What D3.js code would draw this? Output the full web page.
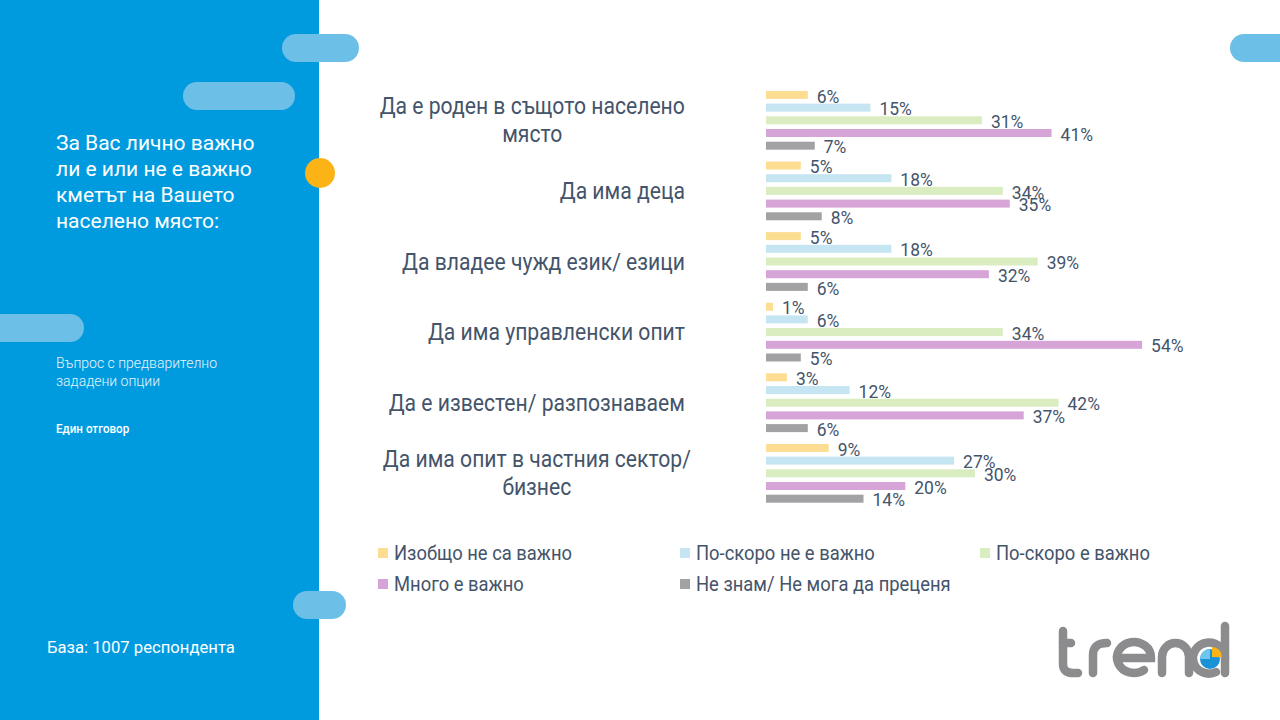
<!DOCTYPE html>
<html>
<head>
	<meta charset="utf-8">
	<title>Кметът на населеното място</title>
	<script src="https://cdn.jsdelivr.net/npm/d3@7"></script>
	<style type="text/css">
		body { margin: 0; background: #fff; }
		svg { display: block; }
		text { font-family: Roboto, "Noto Sans", sans-serif; }
	</style>
</head>
<body>

	<svg width="1280" height="720" class="slide"></svg>

	<script type="text/javascript">

		var categories = [
			['Да е роден в същото населено', 'място'],
			['Да има деца'],
			['Да владее чужд език/ езици'],
			['Да има управленски опит'],
			['Да е известен/ разпознаваем'],
			['Да има опит в частния сектор/', 'бизнес']
		]

		var series_names = ['Изобщо не са важно', 'По-скоро не е важно', 'По-скоро е важно', 'Много е важно', 'Не знам/ Не мога да преценя']
		var series_colors = ['#fcdd92', '#c5e5f3', '#d9edc1', '#d7a4d8', '#a2a2a4']

		var not_at_all = [6, 5, 5, 1, 3, 9]
		var rather_not = [15, 18, 18, 6, 12, 27]
		var rather_yes = [31, 34, 39, 34, 42, 30]
		var very = [41, 35, 32, 54, 37, 20]
		var dont_know = [7, 8, 6, 5, 6, 14]

		var series_values = [not_at_all, rather_not, rather_yes, very, dont_know]

		// chart texts use a condensed face on the slide, so squeeze Roboto a little there
		var SX = 0.92
		function place(x, y, sx) {
			if (sx === undefined) sx = SX
			return 'translate(' + x + ',' + y + ') scale(' + sx + ',1)'
		}

		var svg = d3.select('.slide')

		// left blue panel and decorations
		svg.append('rect').attr('x', 0).attr('y', 0).attr('width', 319).attr('height', 720).attr('fill', '#009bdf')

		var pills = [[282, 34, 77], [183, 82, 112], [-20, 314, 104], [293, 591, 53], [1230, 34, 70]]
		svg.selectAll('.pill').data(pills).enter()
			.append('rect')
			.attr('x', function(d) {return d[0]})
			.attr('y', function(d) {return d[1]})
			.attr('width', function(d) {return d[2]})
			.attr('height', 28)
			.attr('rx', 14)
			.attr('fill', '#6cc0e8')

		svg.append('circle').attr('cx', 320).attr('cy', 173).attr('r', 15).attr('fill', '#fbb316')

		var title_lines = ['За Вас лично важно', 'ли е или не е важно', 'кметът на Вашето', 'населено място:']
		svg.selectAll('.title').data(title_lines).enter()
			.append('text')
			.attr('transform', function(d, i) {return place(56, 150 + i * 26, 1)})
			.attr('fill', '#fff')
			.attr('font-size', 21)
			.text(function(d) {return d})

		svg.selectAll('.sub').data(['Въпрос с предварително', 'зададени опции']).enter()
			.append('text')
			.attr('transform', function(d, i) {return place(56, 368 + i * 18, 1)})
			.attr('fill', '#e6f4fb')
			.attr('font-size', 14)
			.attr('font-weight', 300)
			.text(function(d) {return d})

		svg.append('text').attr('transform', place(56, 433, 0.97)).attr('fill', '#fff').attr('font-size', 12).attr('font-weight', 500).text('Един отговор')
		svg.append('text').attr('transform', place(47, 653, 0.98)).attr('fill', '#fff').attr('font-size', 17).text('База: 1007 респондента')

		// chart
		var x_scale = d3.scaleLinear().domain([0, 60]).range([766, 766 + 60 * 6.965])

		var y_outer = d3.scaleBand()
			.domain(d3.range(categories.length))
			.range([85, 85 + 6 * 70.6])
			.paddingInner(0)

		var y_inner = d3.scaleBand()
			.domain(d3.range(series_names.length))
			.range([0, y_outer.bandwidth()])
			.paddingInner(0.37)
			.paddingOuter(0.465)

		var g_main = svg.append('g').attr('class', 'g-main')

		var groups = g_main.selectAll('.group')
			.data(categories)
			.enter()
			.append('g')
			.attr('transform', function(d, i) {return 'translate(0,' + y_outer(i) + ')'})

		var cells = groups.selectAll('.cell')
			.data(function(d, i) {
				return series_values.map(function(vals, s) {return {s: s, v: vals[i]}})
			})
			.enter()

		cells.append('rect')
			.attr('x', x_scale(0))
			.attr('y', function(d) {return y_inner(d.s)})
			.attr('width', function(d) {return x_scale(d.v) - x_scale(0)})
			.attr('height', y_inner.bandwidth())
			.attr('fill', function(d) {return series_colors[d.s]})

		cells.append('text')
			.attr('transform', function(d) {return place(x_scale(d.v) + 9, y_inner(d.s) + y_inner.bandwidth() / 2 + 1)})
			.attr('dy', '0.35em')
			.attr('font-size', 19)
			.attr('fill', '#44546a')
			.text(function(d) {return d.v + '%'})

		// category labels
		var label_right = 685
		groups.each(function(lines, i) {
			var cy = y_outer.bandwidth() / 2
			var g = d3.select(this)
			if (lines.length == 1) {
				g.append('text')
					.attr('transform', place(label_right, cy))
					.attr('text-anchor', 'end')
					.attr('dy', '0.35em')
					.attr('font-size', 23)
					.attr('fill', '#44546a')
					.text(lines[0])
			} else {
				var texts = g.selectAll('.multi').data(lines).enter()
					.append('text')
					.attr('text-anchor', 'middle')
					.attr('dy', '0.35em')
					.attr('font-size', 23)
					.attr('fill', '#44546a')
					.text(function(d) {return d})
				var w = d3.max(texts.nodes(), function(n) {return n.getComputedTextLength()}) * SX
				texts.attr('transform', function(d, k) {return place(label_right - w / 2 + 6 * i / 5, cy + (k - 0.5) * 28)})
			}
		})

		// legend
		var legend_pos = [[378, 553], [680, 553], [980, 553], [378, 584], [680, 584]]
		var legend = svg.append('g').selectAll('.legend')
			.data(series_names)
			.enter()
			.append('g')
			.attr('transform', function(d, i) {return 'translate(' + legend_pos[i][0] + ',' + legend_pos[i][1] + ')'})

		legend.append('rect')
			.attr('x', 0).attr('y', -5).attr('width', 10).attr('height', 10)
			.attr('fill', function(d, i) {return series_colors[i]})

		legend.append('text')
			.attr('transform', place(16, 0))
			.attr('dy', '0.35em')
			.attr('font-size', 20)
			.attr('fill', '#44546a')
			.text(function(d) {return d})

		// logo, drawn with round strokes
		var logo = svg.append('g')
			.attr('fill', 'none')
			.attr('stroke', '#8c8c8e')
			.attr('stroke-width', 8.5)
			.attr('stroke-linecap', 'round')
		var logo_paths = [
			'M1063,631 V664 Q1063,673 1073,673 H1078',
			'M1063,643 H1071',
			'M1093,673 V655 Q1093,643 1107,643',
			'M1119,658 H1151 A17,15.5 0 1 0 1144,670',
			'M1162,673 V657 A13.5,14 0 0 1 1189,657 V673',
			'M1225,626 V673',
			'M1225,658 A16,15.5 0 1 0 1216,672'
		]
		logo.selectAll('path').data(logo_paths).enter()
			.append('path')
			.attr('d', function(d) {return d})

		var pie = svg.append('g').attr('transform', 'translate(1210,659)')
		pie.append('circle').attr('r', 10).attr('fill', '#1a93d6')
		pie.append('path')
			.attr('d', d3.arc()({innerRadius: 0, outerRadius: 10, startAngle: -Math.PI / 2, endAngle: 0}))
			.attr('fill', '#6cc6ee')
		pie.append('path')
			.attr('d', d3.arc()({innerRadius: 0, outerRadius: 10, startAngle: 0, endAngle: 1.6}))
			.attr('transform', 'translate(2,-2)')
			.attr('fill', '#fbb316')

	</script>

</body>
</html>
